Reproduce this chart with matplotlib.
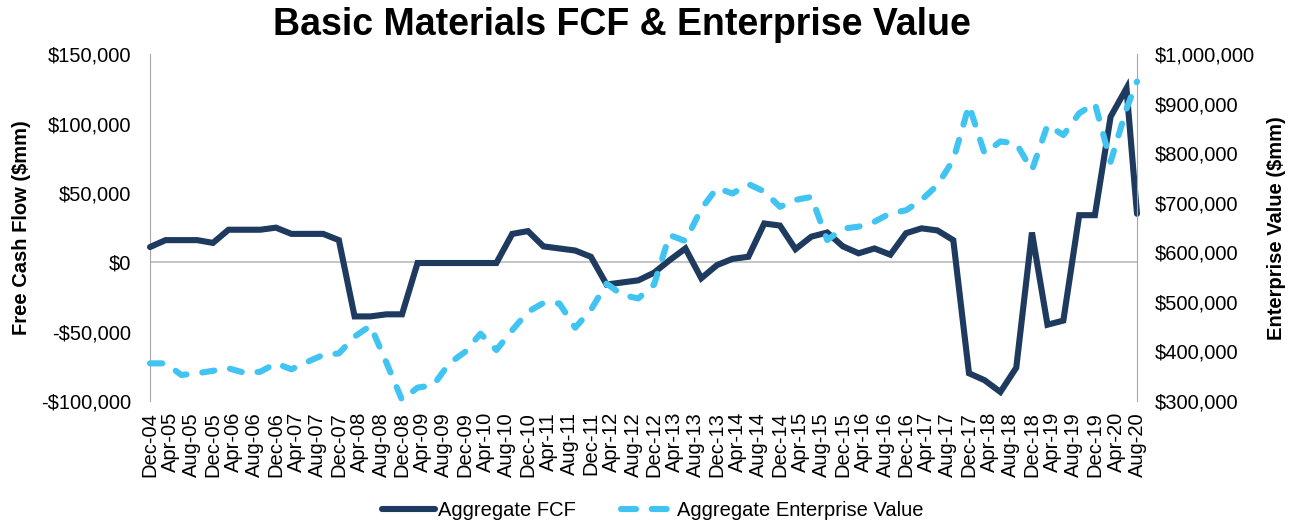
import matplotlib
matplotlib.use("Agg")
import matplotlib.pyplot as plt
from matplotlib.lines import Line2D
from matplotlib.ticker import FuncFormatter
import pandas as pd

plt.rcParams['font.family'] = ['Liberation Sans', 'DejaVu Sans']

# quarterly points Dec-04 .. Jun-20, then the latest point in Aug-20
dates = list(pd.date_range("2004-12-01", "2020-06-01", freq="3MS")) + [pd.Timestamp("2020-08-01")]

fcf = [11000, 16000, 16000, 16000, 14000, 23500, 23500, 23500, 25000, 20500,
       20500, 20500, 16000, -39000, -39000, -37500, -37500, -500, -500, -500,
       -500, -500, -500, 20500, 22500, 11500, 10000, 8500, 4000, -16000,
       -14500, -13000, -7500, 1500, 10000, -11500, -2000, 2500, 4000, 28000,
       26500, 9500, 18500, 21500, 11500, 6500, 10000, 5500, 21000, 24500,
       23000, 16000, -80000, -85000, -93500, -76000, 21500, -45000, -42000, 34000,
       34000, 105000, 125500, 35000]

ev = [376000, 376000, 352500, 356000, 361000, 366000, 357000, 359000, 376000, 364000,
      379000, 393000, 396000, 430000, 452000, 378000, 302000, 327000, 332000, 376000,
      399000, 436000, 403000, 443000, 480000, 498000, 497000, 448000, 484000, 537000,
      514000, 507000, 535000, 635000, 623000, 688000, 730000, 719000, 738000, 723000,
      692000, 706000, 712000, 625000, 648000, 652000, 662000, 679000, 685000, 706000,
      736000, 787000, 897000, 800000, 824000, 820000, 766000, 857000, 837000, 881000,
      901000, 783000, 890000, 945000]

tick_dates = pd.date_range("2004-12-01", "2020-08-01", freq="4MS")
tick_labels = [d.strftime("%b-%y") for d in tick_dates]

navy = "#1F3A5F"
sky = "#41C4F2"
grey = "#A6A6A6"


def money(v, pos):
    if v < 0:
        return "-${:,.0f}".format(abs(v))
    return "${:,.0f}".format(v)


fig = plt.figure(figsize=(12.98, 5.25), dpi=100)
ax = fig.add_axes([150 / 1298, 1 - 401 / 525, (1137 - 150) / 1298, (401 - 54.3) / 525])
ax2 = ax.twinx()

ax.axhline(0, color="#C0C0C0", lw=1.3, zorder=1)
l1, = ax.plot(dates, fcf, color=navy, lw=4.4, solid_joinstyle="miter",
              solid_capstyle="round", zorder=3, clip_on=False)
l2, = ax2.plot(dates, ev, color=sky, lw=4.4, linestyle=(0, (2.0, 2.6)),
               dash_capstyle="round", zorder=3, clip_on=False)

ax.set_xlim(dates[0], dates[-1])
ax.set_ylim(-100000, 150000)
ax.set_yticks([-100000, -50000, 0, 50000, 100000, 150000])
ax2.set_ylim(300000, 1000000)
ax2.set_yticks(range(300000, 1000001, 100000))
ax.yaxis.set_major_formatter(FuncFormatter(money))
ax2.yaxis.set_major_formatter(FuncFormatter(money))

ax.set_xticks(tick_dates)
ax.set_xticklabels(tick_labels, rotation=90)
ax.tick_params(axis="x", length=0, pad=8, labelsize=14.5)
ax.tick_params(axis="y", length=0, pad=13.5, labelsize=14.5)
ax2.tick_params(axis="y", length=0, pad=13, labelsize=14.5)

for a in (ax, ax2):
    a.spines["top"].set_visible(False)
    a.spines["bottom"].set_visible(False)
ax.spines["right"].set_visible(False)
ax2.spines["left"].set_visible(False)
ax.spines["left"].set_color(grey)
ax2.spines["right"].set_color(grey)

fig.text(622 / 1298, 1 - 25 / 525, "Basic Materials FCF & Enterprise Value",
         fontsize=27, fontweight="bold", ha="center", va="center")
fig.text(22 / 1298, 1 - 228 / 525, "Free Cash Flow ($mm)", rotation=90,
         fontsize=14.5, fontweight="bold", ha="center", va="center")
fig.text(1277 / 1298, 1 - 228 / 525, "Enterprise Value ($mm)", rotation=90,
         fontsize=14.5, fontweight="bold", ha="center", va="center")

# legend key for EV: two dashes then a gap before the text
ev_key = Line2D([], [], color=sky, lw=4.4, linestyle=(0, (2.46, 2.56, 2.46, 6)),
                dash_capstyle="round")
fig.legend([l1, ev_key], ["Aggregate FCF", "Aggregate Enterprise Value"],
           loc="center", bbox_to_anchor=(0.503, 0.027), ncol=2, frameon=False,
           handlelength=2.64, handletextpad=0.15, columnspacing=2.25, fontsize=14.5)

fig.savefig("out.png", dpi=100)
